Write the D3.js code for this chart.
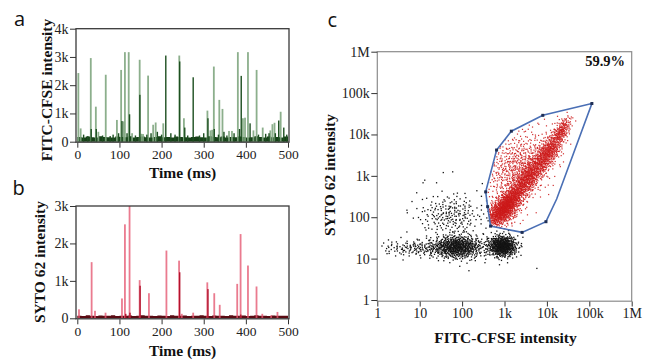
<!DOCTYPE html>
<html><head><meta charset="utf-8">
<script src="https://cdn.jsdelivr.net/npm/d3@7"></script>
<style>body{margin:0;background:#fff;} svg{display:block;}</style>
</head><body><svg id="chart" width="649" height="364"></svg>
<script>
// ---------------- DATA ----------------
// Panel a: FITC-CFSE intensity vs time (ms)
const aLightTimes = [2.5,8,32,44,50,67.5,94,104,110,113,122,130,148,152,156,168,180,186,204,242,253,308.8,316,320,324,337,344.5,360,367,381,393,398,405,418,425.5,440,458,463,468,482.6];
const aLightValues = [2430,470,2960,1240,350,2370,770,2540,720,3170,3170,300,2900,280,270,2340,600,680,650,3050,830,1100,400,420,2660,1480,1160,380,380,3170,830,850,3170,400,2540,500,400,620,670,1060];
const aDarkTimes = [15,25,33,45,60,78,85,98,106,118,124,138,148.5,165,175,190,200,210,222,232,243,255,262,275,290,300,310,325,335,348,355,372,385,389,410,430,447,455,470,478,490,497];
const aDarkValues = [250,200,450,450,220,200,250,300,730,300,970,220,1660,250,300,350,250,3050,300,250,2840,500,220,2280,220,300,830,450,250,350,220,300,450,2330,650,250,280,300,300,750,500,250];
const aBaseline = [170,150,180,160,150,190,170,160,150,180,
                   170,160,190,150,170,180,160,150,170,190,
                   160,170,150,180,170,160,150,170,180,160,
                   150,190,170,160,180,150,170,160,180,170,
                   150,160,190,170,150,180,160,170,150,180,
                   170];
// Panel b: SYTO 62 intensity vs time (ms)
const bLightTimes = [4,34,42,67,106,113,124,148,170,211.5,241.5,248,275,308.5,325,338,379.5,387.5,405,425.3,439,460,475];
const bLightValues = [240,1500,200,150,530,2510,3000,1020,670,1810,1540,120,150,960,670,360,920,2250,1410,850,120,80,170];
const bDarkTimes = [115,125,149,243,310,388];
const bDarkValues = [120,150,870,1230,780,100];
const bBaseline = [70,60,80,70,60,75,65,70,80,60,
                   70,65,75,60,70,80,65,70,60,75,
                   70,60,80,65,70,75,60,70,65,80,
                   70,60,75,70,65,60,80,70,65,75,
                   60,70,80,65,70,60,75,70,65,70,
                   60];
const timeTicks = [0,100,200,300,400,500];
const aYTicks = [0,1000,2000,3000,4000];
const aYLabels = ["0","1k","2k","3k","4k"];
const bYTicks = [0,1000,2000,3000];
const bYLabels = ["0","1k","2k","3k"];

// Panel c: flow-cytometry style scatter (log10 units)
// cluster: [centre log x, centre log y, sd along major axis, sd along minor axis, angle deg, count]
const redClusters = [
  [3.05, 2.30, 0.30, 0.12, 50, 950],
  [3.55, 2.95, 0.30, 0.13, 56, 550],
  [4.02, 3.55, 0.30, 0.12, 58, 550],
  [4.35, 4.10, 0.18, 0.08, 60, 180],
  [3.30, 3.20, 0.50, 0.35, 55, 650],
  [2.90, 2.05, 0.25, 0.15, 25, 300]
];
const blackClusters = [
  [1.90, 1.28, 0.30, 0.14, 0, 650],
  [1.00, 1.25, 0.45, 0.10, 0, 160],
  [2.95, 1.30, 0.17, 0.13, 0, 600],
  [1.75, 2.05, 0.40, 0.26, 0, 220]
];
const blackOutliersX = [8.5,12,36,25,5,5800,145,1.8,1.9,2.2,60,300];
const blackOutliersY = [390,680,1200,680,148,5.8,5.1,20,15,25,1250,650];
// gate polygon vertices
const gateX = [115000,8000,1450,650,360,400,470,2600,9500,17000];
const gateY = [56000,29000,12000,4200,410,180,61,43,78,275];
const logTicks = [1,10,100,1e3,1e4,1e5,1e6];
const logLabels = ["1","10","100","1k","10k","100k","1M"];
const gatePercent = "59.9%";

// ---------------- DRAW ----------------
const svg = d3.select("#chart");
const SERIF = "'Liberation Serif','Times New Roman',serif";
const SANS = "'Open Sans','Noto Sans',sans-serif";

function styleAxis(g, size){
  g.select(".domain").remove();
  g.selectAll(".tick line").attr("stroke","#333").attr("stroke-width",1);
  g.selectAll(".tick text").attr("font-family",SERIF).attr("font-size",size||14).attr("fill","#222");
}

function timePanel(cfg){
  const x = d3.scaleLinear().domain([0,500]).range([77.3,288]);
  const y = d3.scaleLinear().domain([0,cfg.ymax]).range([cfg.bottom,cfg.top]);
  const g = svg.append("g");
  // baseline band
  const baseT = d3.range(0,501,10);
  const area = d3.area().x((d,i)=>x(baseT[i])).y0(y(0)).y1(d=>y(d)).curve(d3.curveStepAfter);
  g.append("path").datum(cfg.base).attr("d",area).attr("fill",cfg.baseColor);
  // light bars
  g.selectAll(".lb").data(cfg.lightT).enter().append("rect")
    .attr("x",(d)=>x(d)-0.9).attr("width",1.8)
    .attr("y",(d,i)=>y(cfg.lightV[i])).attr("height",(d,i)=>y(0)-y(cfg.lightV[i]))
    .attr("fill",cfg.lightColor).attr("opacity",cfg.lightOpacity);
  // dark bars
  g.selectAll(".db").data(cfg.darkT).enter().append("rect")
    .attr("x",(d)=>x(d)-0.7).attr("width",1.4)
    .attr("y",(d,i)=>y(cfg.darkV[i])).attr("height",(d,i)=>y(0)-y(cfg.darkV[i]))
    .attr("fill",cfg.darkColor);
  // frame
  g.append("rect").attr("x",76).attr("y",cfg.top).attr("width",213).attr("height",cfg.bottom-cfg.top+0.5)
    .attr("fill","none").attr("stroke","#3a3a3a").attr("stroke-width",1.3);
  // axes
  const ax = g.append("g").attr("transform",`translate(0,${cfg.bottom+1})`)
    .call(d3.axisBottom(x).tickValues(timeTicks).tickSize(5).tickPadding(2));
  styleAxis(ax, 13.5);
  const ay = g.append("g").attr("transform","translate(76,0)")
    .call(d3.axisLeft(y).tickValues(cfg.yTicks).tickFormat((d,i)=>cfg.yLabels[i]).tickSize(6).tickPadding(1.5));
  styleAxis(ay);
  // titles
  g.append("text").attr("x",182.6).attr("y",cfg.xTitleY).attr("text-anchor","middle")
    .attr("font-family",SERIF).attr("font-weight","bold").attr("font-size",15.5).attr("fill","#111").text("Time (ms)");
  g.append("text").attr("transform",`translate(${cfg.yTitleX},${cfg.yTitleCY}) rotate(-90)`).attr("text-anchor","middle")
    .attr("font-family",SERIF).attr("font-weight","bold").attr("font-size",15.5).attr("fill","#111").text(cfg.yTitle);
  g.append("text").attr("x",cfg.letterX).attr("y",cfg.letterY).attr("font-family",SANS).attr("font-size",20).attr("fill","#111").text(cfg.letter);
}

timePanel({ymax:4000, top:28.7, bottom:141.7, base:aBaseline, baseColor:"#163f17",
  lightT:aLightTimes, lightV:aLightValues, lightColor:"#7fa680", lightOpacity:0.9,
  darkT:aDarkTimes, darkV:aDarkValues, darkColor:"#1d4f20",
  yTicks:aYTicks, yLabels:aYLabels, xTitleY:177.5, yTitle:"FITC-CFSE intensity", yTitleX:52, yTitleCY:90,
  letter:"a", letterX:14, letterY:26});

timePanel({ymax:3000, top:206, bottom:318.3, base:bBaseline, baseColor:"#5a0a12",
  lightT:bLightTimes, lightV:bLightValues, lightColor:"#e4566f", lightOpacity:0.78,
  darkT:bDarkTimes, darkV:bDarkValues, darkColor:"#b3122c",
  yTicks:bYTicks, yLabels:bYLabels, xTitleY:356, yTitle:"SYTO 62 intensity", yTitleX:45, yTitleCY:262,
  letter:"b", letterX:12.5, letterY:195});

// ----- panel c -----
const xC = d3.scaleLog().domain([1,1e6]).range([377.3,631.7]);
const yC = d3.scaleLog().domain([1,1e6]).range([300,51.7]);
const gateLog = gateX.map((v,i)=>[Math.log10(v),Math.log10(gateY[i])]);

function halton(i,b){let f=1,r=0;while(i>0){f/=b;r+=f*(i%b);i=Math.floor(i/b);}return r;}
let qIdx = 7;
function gauss2(){
  const u1=Math.max(1e-6,halton(qIdx,2)), u2=halton(qIdx,3); qIdx++;
  const m=Math.sqrt(-2*Math.log(u1));
  return [m*Math.cos(2*Math.PI*u2), m*Math.sin(2*Math.PI*u2)];
}
function cloud(clusters, keepInside){
  const pts=[];
  clusters.forEach(c=>{
    const [cx,cy,sa,sb,ang,n]=c; const t=ang*Math.PI/180;
    for(let k=0;k<n;k++){
      const [g1,g2]=gauss2();
      const lx=cx+g1*sa*Math.cos(t)-g2*sb*Math.sin(t);
      const ly=cy+g1*sa*Math.sin(t)+g2*sb*Math.cos(t);
      if(lx<0||ly<0||lx>6||ly>6) continue;
      const inside=d3.polygonContains(gateLog,[lx,ly]);
      if(inside===keepInside) pts.push([Math.pow(10,lx),Math.pow(10,ly)]);
    }
  });
  return pts;
}
const blackPts = cloud(blackClusters,false).concat(blackOutliersX.map((v,i)=>[v,blackOutliersY[i]]));
const redPts = cloud(redClusters,true);

const gc = svg.append("g");
gc.selectAll(".bp").data(blackPts).enter().append("rect")
  .attr("x",d=>xC(d[0])-0.65).attr("y",d=>yC(d[1])-0.65).attr("width",1.3).attr("height",1.3).attr("fill","#141414");
gc.selectAll(".rp").data(redPts).enter().append("rect")
  .attr("x",d=>xC(d[0])-0.6).attr("y",d=>yC(d[1])-0.6).attr("width",1.2).attr("height",1.2).attr("fill","#cc1a1a").attr("opacity",0.9);
// gate
gc.append("path").datum(gateX.map((v,i)=>[xC(v),yC(gateY[i])]))
  .attr("d",d=>"M"+d.join("L")+"Z").attr("fill","none").attr("stroke","#4a6fb5").attr("stroke-width",1.6);
gc.selectAll(".gv").data(gateX.slice(0,9)).enter().append("rect")
  .attr("x",(d)=>xC(d)-1.5).attr("y",(d,i)=>yC(gateY[i])-1.5).attr("width",3).attr("height",3).attr("fill","#1f2f55");
// frame
gc.append("rect").attr("x",377.3).attr("y",51.7).attr("width",254.4).attr("height",249.5)
  .attr("fill","none").attr("stroke","#8c8c8c").attr("stroke-width",1.2);
const axc = gc.append("g").attr("transform","translate(0,301.5)")
  .call(d3.axisBottom(xC).tickValues(logTicks).tickFormat((d,i)=>logLabels[i]).tickSize(5).tickPadding(2));
styleAxis(axc);
const ayc = gc.append("g").attr("transform","translate(377.3,0)")
  .call(d3.axisLeft(yC).tickValues(logTicks).tickFormat((d,i)=>logLabels[i]).tickSize(6).tickPadding(1.5));
styleAxis(ayc);
gc.append("text").attr("x",505.5).attr("y",342.5).attr("text-anchor","middle")
  .attr("font-family",SERIF).attr("font-weight","bold").attr("font-size",15.5).attr("fill","#111").text("FITC-CFSE intensity");
gc.append("text").attr("transform","translate(335,175) rotate(-90)").attr("text-anchor","middle")
  .attr("font-family",SERIF).attr("font-weight","bold").attr("font-size",15.5).attr("fill","#111").text("SYTO 62 intensity");
gc.append("text").attr("x",625).attr("y",66).attr("text-anchor","end")
  .attr("font-family",SERIF).attr("font-weight","bold").attr("font-size",14.5).attr("fill","#111").text(gatePercent);
gc.append("text").attr("x",327.5).attr("y",27).attr("font-family",SANS).attr("font-size",20).attr("fill","#111").text("c");
</script></body></html>
